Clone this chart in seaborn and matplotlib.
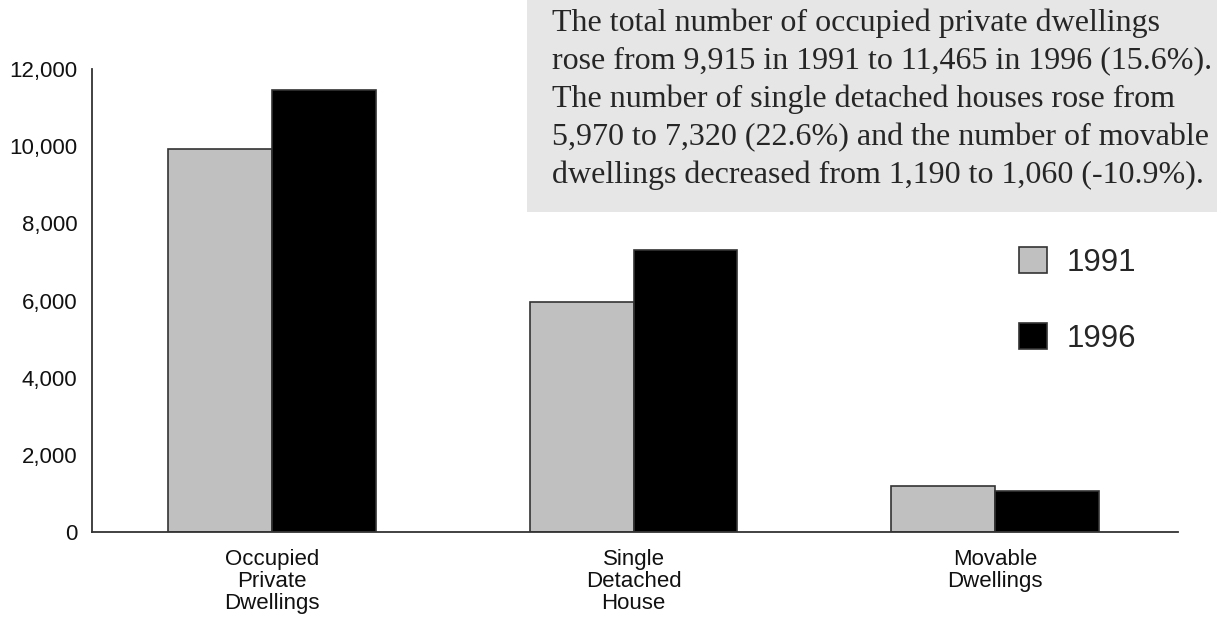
# Occupied private dwellings, 1991 vs 1996 - grouped bar chart

import pandas as pd
import matplotlib.pyplot as plt
import matplotlib.patches as mpatches
import matplotlib.ticker as mticker
import seaborn as sns

# ---------------------------
# Data
# ---------------------------
categories = ["Occupied\nPrivate\nDwellings", "Single\nDetached\nHouse", "Movable\nDwellings"]
years = ["1991", "1996"]
values_1991 = [9915, 5970, 1190]
values_1996 = [11465, 7320, 1060]
y_ticks = [0, 2000, 4000, 6000, 8000, 10000, 12000]

note = ("The total number of occupied private dwellings\n"
        "rose from 9,915 in 1991 to 11,465 in 1996 (15.6%).\n"
        "The number of single detached houses rose from\n"
        "5,970 to 7,320 (22.6%) and the number of movable\n"
        "dwellings decreased from 1,190 to 1,060 (-10.9%).")

df = pd.DataFrame({
    "category": categories * 2,
    "year": [years[0]] * 3 + [years[1]] * 3,
    "count": values_1991 + values_1996,
})

# ---------------------------
# Style
# ---------------------------
sns.set_style("white")
plt.rcParams["font.family"] = ["Liberation Sans", "DejaVu Sans"]

fig = plt.figure(figsize=(12.17, 6.17), dpi=100)
ax = fig.add_axes([92 / 1217, 1 - 532 / 617, (1178 - 92) / 1217, (532 - 69) / 617])

sns.barplot(data=df, x="category", y="count", hue="year",
            palette=["#c0c0c0", "#000000"], saturation=1,
            width=0.575, gap=0, edgecolor="#333333", linewidth=1.2, ax=ax)

ax.set_xlim(-0.498, 2.506)
ax.set_ylim(0, 12000)
ax.set_yticks(y_ticks)
ax.yaxis.set_major_formatter(mticker.FuncFormatter(lambda v, p: f"{int(v):,}"))
ax.set_xlabel("")
ax.set_ylabel("")
ax.tick_params(axis="y", length=0, pad=10.5, labelsize=16, colors="#111111")
ax.tick_params(axis="x", length=0, pad=12.5, labelsize=16, colors="#111111")
for lab in ax.get_xticklabels():
    lab.set_linespacing(1.05)

sns.despine(ax=ax, top=True, right=True)
for side in ["left", "bottom"]:
    ax.spines[side].set_color("#333333")
    ax.spines[side].set_linewidth(1.3)

# ---------------------------
# Legend
# ---------------------------
handles, labels = ax.get_legend_handles_labels()
ax.get_legend().remove()
fig.legend(handles, labels, loc="upper left",
           bbox_to_anchor=(1019 / 1217, 1 - 247 / 617),
           frameon=False, borderpad=0, borderaxespad=0,
           fontsize=22.5, handlelength=0.88, handleheight=0.9,
           handletextpad=0.65, labelspacing=1.45)

# ---------------------------
# Annotation box
# ---------------------------
box = mpatches.Rectangle((527 / 1217, 1 - 212 / 617), 1 - 527 / 1217, 212 / 617,
                         transform=fig.transFigure, facecolor="#e6e6e6",
                         edgecolor="none", zorder=0)
fig.patches.append(box)
fig.text(552 / 1217, 1 - 8 / 617, note, ha="left", va="top",
         fontsize=23, linespacing=1.40, family=["Liberation Serif", "DejaVu Serif"])

plt.savefig("out.png", dpi=100)
